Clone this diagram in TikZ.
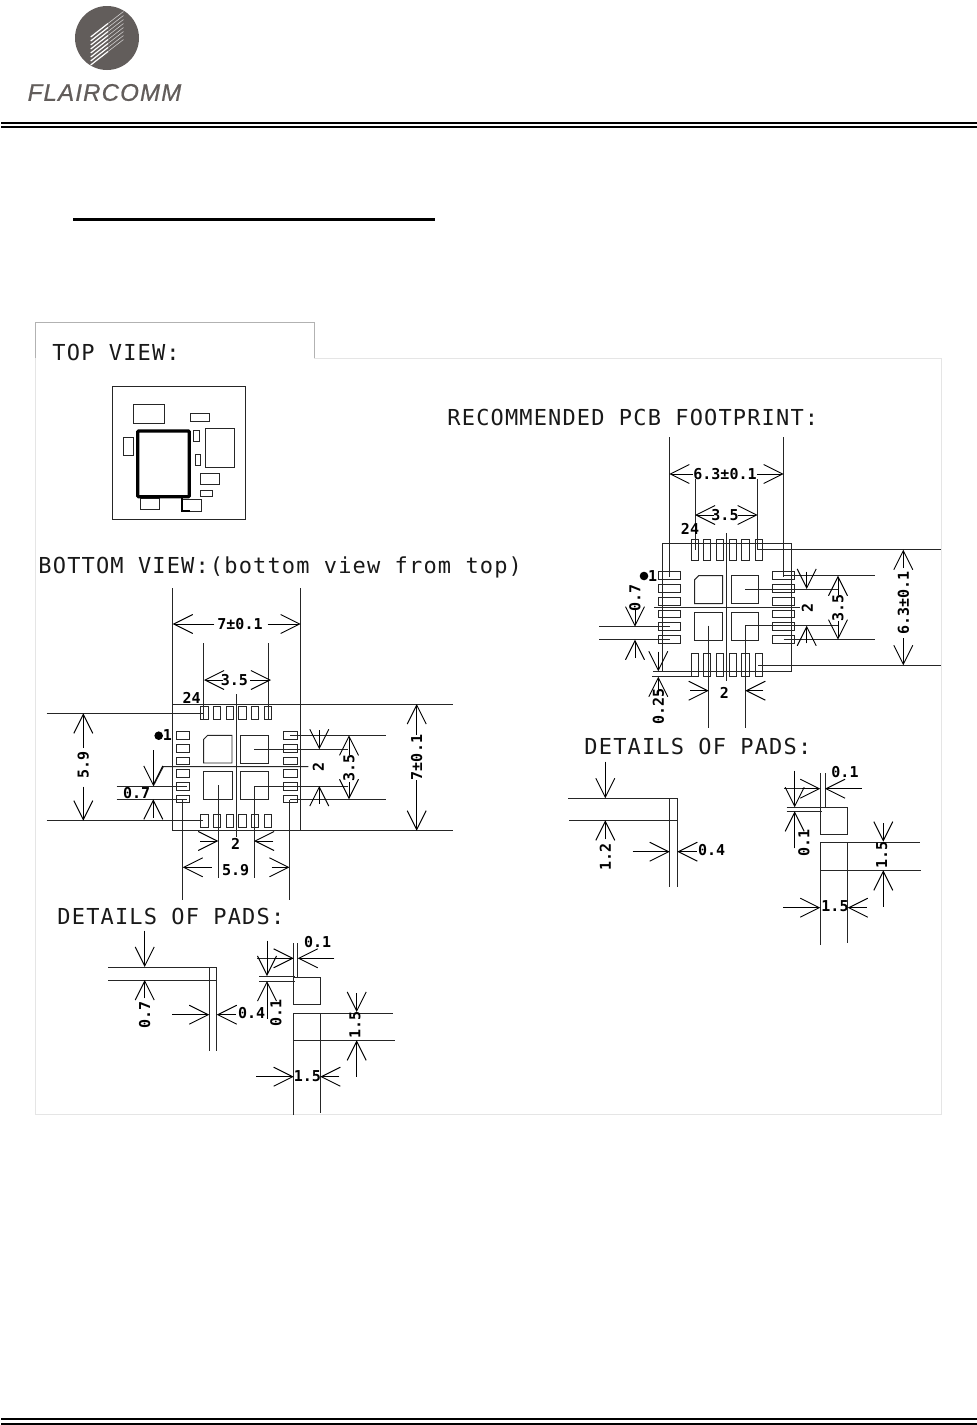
\documentclass[tikz,border=0pt]{standalone}
\usepackage{fontspec}
\usetikzlibrary{arrows.meta}
\newfontfamily\cadfont[LetterSpace=5.2]{DejaVu Sans Mono}
\newfontfamily\dimfont{DejaVu Sans Mono Bold}
\newfontfamily\logofont[LetterSpace=5,FakeBold=0.7]{Liberation Sans Italic}
\definecolor{logogray}{HTML}{625D5B}
\begin{document}
\begin{tikzpicture}[x=1pt, y=-1pt, line width=0.95pt,
  every node/.style={inner sep=0pt},
  title/.style={anchor=base west, font=\cadfont\fontsize{22}{24}\selectfont, text=black!90},
  dimtext/.style={font=\dimfont\fontsize{15}{16}\selectfont, text=black},
  sidetext/.style={dimtext, rotate=90},
  dimarr/.style={-{Straight Barb[length=19pt, width=19pt]}},
  lead/.style={draw=black!85}]
  \useasboundingbox (0,0) rectangle (977,1425);

  % Page header and footer
  \fill[logogray] (107,38) circle (32);
  \foreach \y in {37,41,...,65} {
    \draw[white, line width=1.2pt] (90.7,\y) -- (108,\y-13.5);
    \draw[white!70!logogray, line width=0.6pt] (108,\y-13.5) -- (123.5,\y-25.5);
  }
  \node[font=\logofont\fontsize{24}{25}\selectfont, text=logogray] (logo) at (104.5,92.5) {FLAIRCOMM};
  \draw[line width=2pt] (1,123) -- (977,123);
  \draw[line width=2pt] (1,127) -- (977,127);
  \draw[line width=2pt] (1,1419) -- (977,1419);
  \draw[line width=2pt] (1,1423.7) -- (977,1423.7);
  \draw[line width=3pt] (73,219.5) -- (435,219.5);

  % Picture frames
  \draw[black!30, line width=0.7pt] (35.7,358) -- (35.7,322.7) -- (314.3,322.7) -- (314.3,358);
  \draw[black!10, line width=0.8pt] (35.7,358) -- (35.7,1114) -- (941.5,1114) -- (941.5,358) -- (314.3,358);

  % Top view
  \node[title] (toptitle) at (52,360.7) {TOP VIEW:};
  \draw[lead] (112.3,386) rectangle (245.7,519.7);
  \draw[lead] (133.3,404.3) rectangle (164.7,423.3);
  \draw[lead] (190.7,413) rectangle (209.3,421.7);
  \draw[lead] (123.3,437) rectangle (133.3,455.7);
  \draw[lead] (193.7,430.3) rectangle (199.3,441.7);
  \draw[lead] (195,454) rectangle (200.7,465.7);
  \draw[lead] (205,428.3) rectangle (234.3,467);
  \draw[lead] (200.3,473.7) rectangle (219,484);
  \draw[lead] (200.3,490.7) rectangle (212.3,496.7);
  \draw[lead] (140.3,498.7) rectangle (159,509.3);
  \draw[lead] (182.7,499.3) rectangle (201,511);
  \draw[line width=3.3pt, rounded corners=1pt] (137.7,431) rectangle (189.3,496.7);
  \draw[line width=2pt] (182.2,497) -- (182.2,511) -- (190,511);

  % Bottom view
  \node[title] (bottomtitle) at (38,573) {BOTTOM VIEW:(bottom view from top)};
  \draw[lead] (172.7,588.3) -- (172.7,830.7) -- (453.3,830.7);
  \draw[lead] (300.7,588.3) -- (300.7,830.7);
  \draw[lead] (172.7,704) -- (453.3,704);
  \foreach \x in {200.7,213.4,226.1,238.8,251.5,264.2} {
    \draw[lead] (\x,706.7) rectangle (\x+7.3,719.3);
    \draw[lead] (\x,814.3) rectangle (\x+7.3,827.3);
  }
  \foreach \y in {735.5,748.3,761,773.7,786.7,799} {
    \draw[lead] (176.3,\y-3.8) rectangle (189.7,\y+3.8);
    \draw[lead] (283.7,\y-3.8) rectangle (297,\y+3.8);
  }
  \draw[lead] (207.7,735.3) -- (232,735.3) -- (232,763) -- (203.7,763) -- (203.7,739.3) -- cycle;
  \draw[lead] (240.3,735.3) rectangle (268.7,763);
  \draw[lead] (203.7,771.7) rectangle (232,799.7);
  \draw[lead] (240.3,771.7) rectangle (268.7,799.7);
  \draw[lead] (236.7,694) -- (236.7,836.7);
  \draw[lead] (153.3,786) -- (163.3,766.7) -- (308.3,766.7);
  % bottom view dimensions
  \node[dimtext] (w7) at (240,624) {7±0.1};
  \draw[dimarr] (214.3,624) -- (172.7,624);
  \draw[dimarr] (267.7,624) -- (300.7,624);
  \draw[lead] (203.7,643.3) -- (203.7,720);
  \draw[lead] (268,643.3) -- (268,720);
  \node[dimtext] (w35) at (234.3,680) {3.5};
  \draw[dimarr] (223,680) -- (204,680);
  \draw[dimarr] (250,680) -- (271,680);
  \node[dimtext] (n24) at (191.7,698.3) {24};
  \fill (158.7,735.7) circle (4.3);
  \node[dimtext] (n1) at (167.3,735.5) {1};
  \draw[lead] (46.7,713.3) -- (203.3,713.3);
  \draw[lead] (46.7,820.7) -- (203.3,820.7);
  \node[sidetext] (h59) at (83.3,765) {5.9};
  \draw[dimarr] (83.3,748) -- (83.3,713.3);
  \draw[dimarr] (83.3,786.7) -- (83.3,820.7);
  \draw[lead] (116.7,786) -- (186.7,786);
  \draw[lead] (116.7,799.3) -- (186.7,799.3);
  \draw[dimarr] (153.3,750) -- (153.3,786);
  \draw[dimarr] (153.3,818) -- (153.3,799.3);
  \node[dimtext] (g07) at (136.7,793) {0.7};
  \draw[lead] (290,735.3) -- (385.7,735.3);
  \draw[lead] (290,799.3) -- (385.7,799.3);
  \draw[lead] (254,749.3) -- (348.3,749.3);
  \draw[lead] (218.3,785) -- (218.3,877.7);
  \draw[lead] (348.3,786) -- (254,786) -- (254,877.7);
  \node[sidetext] (s2) at (318.3,767.3) {2};
  \draw[dimarr] (319.3,730) -- (319.3,749.3);
  \draw[dimarr] (319.3,804) -- (319.3,786);
  \node[sidetext] (h35) at (349,768) {3.5};
  \draw[dimarr] (349,755) -- (349,735.3);
  \draw[dimarr] (349,782) -- (349,799.3);
  \node[sidetext] (h7) at (416.7,757.5) {7±0.1};
  \draw[dimarr] (416.7,735) -- (416.7,704);
  \draw[dimarr] (416.7,780) -- (416.7,830.7);
  \node[dimtext] (b2) at (235.7,844) {2};
  \draw[dimarr] (200,841) -- (218.3,841);
  \draw[dimarr] (273.3,841) -- (254,841);
  \node[dimtext] (b59) at (235.7,870) {5.9};
  \draw[dimarr] (211.7,867.3) -- (182.7,867.3);
  \draw[dimarr] (271.7,867.3) -- (289.5,867.3);
  \draw[lead] (182.7,800) -- (182.7,900);
  \draw[lead] (289.7,800) -- (289.7,900);

  % Details of pads, left
  \node[title] (padtitle) at (57,924) {DETAILS OF PADS:};
  \draw[lead] (108,967) -- (216.7,967) -- (216.7,1051);
  \draw[lead] (108,980) -- (216.7,980);
  \draw[lead] (209.3,967) -- (209.3,1051);
  \draw[dimarr] (144.7,930.7) -- (144.7,967);
  \draw[dimarr] (144.7,998.3) -- (144.7,980);
  \node[sidetext] (p07) at (144.7,1015) {0.7};
  \draw[dimarr] (172,1014.7) -- (209.3,1014.7);
  \draw[dimarr] (236,1014.7) -- (216.7,1014.7);
  \node[dimtext] (p04) at (251.7,1013) {0.4};
  \draw[lead] (293.7,977) rectangle (320.3,1004);
  \draw[lead] (293.7,943.3) -- (293.7,977);
  \draw[lead] (297.7,943.3) -- (297.7,977);
  \draw[dimarr] (274.3,958.3) -- (293.7,958.3);
  \draw[dimarr] (334.3,958.3) -- (297.7,958.3);
  \node[dimtext] (p01a) at (317.7,942.3) {0.1};
  \draw[lead] (259.3,976) -- (295,976);
  \draw[lead] (259.3,981) -- (295,981);
  \draw[lead] (257,958.3) -- (274.3,958.3);
  \draw[dimarr] (267,940.7) -- (267,976);
  \draw[dimarr] (267,1019) -- (267,981);
  \node[sidetext] (p01b) at (276,1013.3) {0.1};
  \draw[lead] (293.7,1115) -- (293.7,1013.3) -- (392.7,1013.3);
  \draw[lead] (320.3,1013.3) -- (320.3,1113.3);
  \draw[lead] (293.7,1040.3) -- (395,1040.3);
  \draw[dimarr] (356.7,993.3) -- (356.7,1012);
  \draw[dimarr] (356.7,1076.7) -- (356.7,1040.3);
  \node[sidetext] (p15a) at (355,1025) {1.5};
  \draw[dimarr] (256,1076.7) -- (293.7,1076.7);
  \draw[dimarr] (339.3,1076.7) -- (320.3,1076.7);
  \node[dimtext] (p15b) at (307.3,1075.7) {1.5};

  % Recommended footprint
  \node[title] (pcbtitle) at (447,425.5) {RECOMMENDED PCB FOOTPRINT:};
  \draw[lead] (662.7,543.7) rectangle (791,671.3);
  \draw[lead] (669.3,437) -- (669.3,576.7);
  \draw[lead] (783.7,437) -- (783.7,576.7);
  \foreach \x in {691,703.6,716.5,729.3,741.7,755} {
    \draw[lead] (\x,539) rectangle (\x+7.3,560.7);
    \draw[lead] (\x,653.3) rectangle (\x+7.3,676.7);
  }
  \foreach \y in {575.5,588.3,601.3,614,626.5,639.3} {
    \draw[lead] (658.7,\y-3.8) rectangle (680.3,\y+3.8);
    \draw[lead] (772.7,\y-3.8) rectangle (794.3,\y+3.8);
  }
  \draw[lead] (698.7,575.7) -- (722.7,575.7) -- (722.7,603.7) -- (694.7,603.7) -- (694.7,579.7) -- cycle;
  \draw[lead] (731,575.7) rectangle (758.7,603.7);
  \draw[lead] (694.7,612.3) rectangle (722.7,640);
  \draw[lead] (731,612.3) rectangle (758.7,640);
  \draw[lead] (726.7,533.3) -- (726.7,680.7);
  \draw[lead] (654,607.7) -- (800,607.7);
  % footprint dimensions
  \node[dimtext] (f63) at (725,474) {6.3±0.1};
  \draw[dimarr] (693,474) -- (669.3,474);
  \draw[dimarr] (757,474) -- (783.7,474);
  \draw[lead] (695,479.3) -- (695,550);
  \draw[lead] (757.7,479.3) -- (757.7,550);
  \node[dimtext] (f35) at (725,515) {3.5};
  \draw[dimarr] (714.3,515) -- (695,515);
  \draw[dimarr] (738.3,515) -- (757.7,515);
  \node[dimtext] (f24) at (690,529.3) {24};
  \fill (644,576) circle (4.3);
  \node[dimtext] (f1) at (652.7,575.7) {1};
  \node[sidetext] (f2s) at (807.3,608.3) {2};
  \draw[lead] (783.7,575.7) -- (875,575.7);
  \draw[lead] (783.7,639.7) -- (875,639.7);
  \draw[lead] (745.3,589) -- (838.3,589);
  \draw[lead] (708.7,625.7) -- (708.7,727.7);
  \draw[lead] (838.3,625.7) -- (745.3,625.7) -- (745.3,727.7);
  \draw[dimarr] (806.7,571.7) -- (806.7,589);
  \draw[dimarr] (806.7,643.3) -- (806.7,625.7);
  \node[sidetext] (f35s) at (838,608) {3.5};
  \draw[dimarr] (838,595) -- (838,575.7);
  \draw[dimarr] (838,621) -- (838,639.7);
  \draw[lead] (758.3,549.7) -- (941,549.7);
  \draw[lead] (758.3,665.3) -- (941,665.3);
  \node[sidetext] (f63s) at (903.3,602.7) {6.3±0.1};
  \draw[dimarr] (903.3,568) -- (903.3,549.7);
  \draw[dimarr] (903.3,638) -- (903.3,665.3);
  \draw[lead] (599,626.7) -- (670,626.7);
  \draw[lead] (599,639.7) -- (670,639.7);
  \draw[dimarr] (635,608) -- (635,626.7);
  \draw[dimarr] (635,658) -- (635,639.7);
  \node[sidetext] (f07) at (635,598) {0.7};
  \draw[lead] (653.3,671.3) -- (663,671.3);
  \draw[lead] (652.3,676.7) -- (691,676.7);
  \draw[dimarr] (658.3,651.7) -- (658.3,671.3);
  \draw[dimarr] (658.3,695) -- (658.3,676.7);
  \node[sidetext] (f025) at (658.3,706.7) {0.25};
  \node[dimtext] (f2b) at (724.3,692.7) {2};
  \draw[dimarr] (690,690.7) -- (708.7,690.7);
  \draw[dimarr] (763.3,690.7) -- (745.3,690.7);

  % Details of pads, right
  \node[title] (padtitleb) at (584,754) {DETAILS OF PADS:};
  \draw[lead] (568.3,798.3) -- (677.3,798.3) -- (677.3,887.3);
  \draw[lead] (569.3,820.3) -- (677.3,820.3);
  \draw[lead] (669.7,798.3) -- (669.7,887.3);
  \draw[dimarr] (605.3,761.7) -- (605.3,798.3);
  \draw[dimarr] (605.3,839.3) -- (605.3,820.3);
  \node[sidetext] (q12) at (605.3,856.7) {1.2};
  \draw[dimarr] (632.7,851.7) -- (669.7,851.7);
  \draw[dimarr] (696.7,851.7) -- (677.3,851.7);
  \node[dimtext] (q04) at (711.7,850) {0.4};
  \draw[lead] (820.3,807) rectangle (847.7,834.3);
  \draw[lead] (820.3,773.3) -- (820.3,807);
  \draw[lead] (825,773.3) -- (825,807);
  \draw[dimarr] (801.7,788.7) -- (820.3,788.7);
  \draw[dimarr] (861.7,788.7) -- (825,788.7);
  \node[dimtext] (q01a) at (845,772.3) {0.1};
  \draw[lead] (786.7,807.3) -- (821.7,807.3);
  \draw[lead] (786.7,811.3) -- (821.7,811.3);
  \draw[lead] (784,788.7) -- (801.7,788.7);
  \draw[dimarr] (794.7,770.7) -- (794.7,807.3);
  \draw[dimarr] (794.7,848.3) -- (794.7,811.3);
  \node[sidetext] (q01b) at (804,843.3) {0.1};
  \draw[lead] (820.3,945) -- (820.3,842.7) -- (920,842.7);
  \draw[lead] (847.7,842.7) -- (847.7,942.7);
  \draw[lead] (820.3,870.3) -- (921,870.3);
  \draw[dimarr] (883.3,823.3) -- (883.3,841.7);
  \draw[dimarr] (883.3,906.7) -- (883.3,870.3);
  \node[sidetext] (q15a) at (881.7,855) {1.5};
  \draw[dimarr] (783.3,907.7) -- (820.3,907.7);
  \draw[dimarr] (866.7,907.7) -- (847.7,907.7);
  \node[dimtext] (q15b) at (835,905.7) {1.5};
\end{tikzpicture}
\end{document}
